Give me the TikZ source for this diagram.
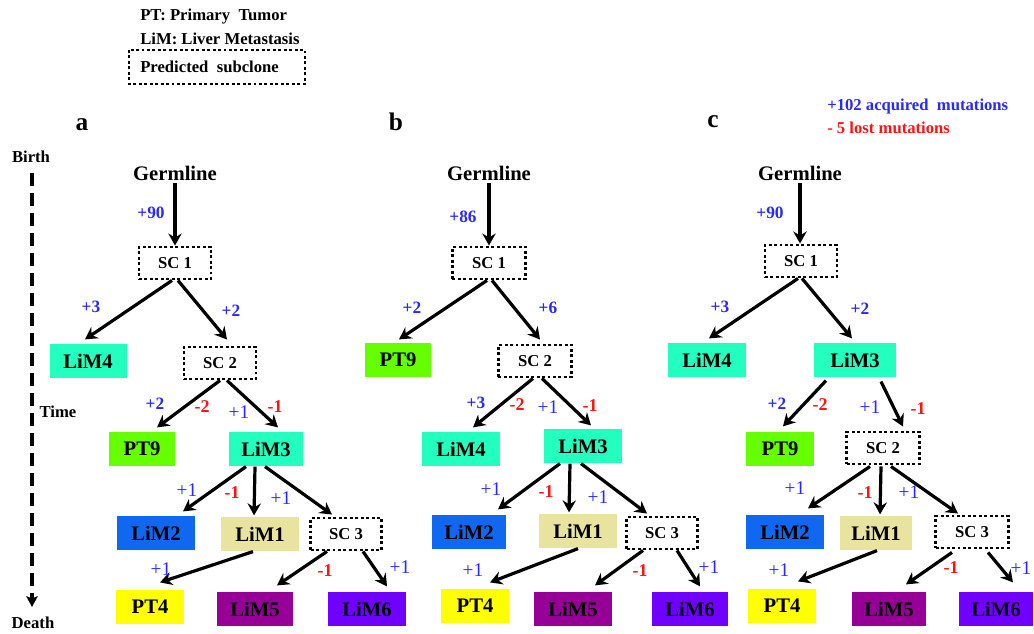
\documentclass[tikz,border=0pt]{standalone}
\usepackage{fontspec}
\setmainfont{Liberation Serif}
\usetikzlibrary{arrows.meta,calc}
\definecolor{aqua}{RGB}{34,255,190}
\definecolor{ptnine}{RGB}{102,255,0}
\definecolor{limtwo}{RGB}{16,104,240}
\definecolor{limone}{RGB}{232,228,160}
\definecolor{ptfour}{RGB}{255,255,0}
\definecolor{limfive}{RGB}{150,0,150}
\definecolor{limsix}{RGB}{112,0,255}
\definecolor{gainc}{RGB}{40,40,255}
\definecolor{lossc}{RGB}{255,20,20}
\begin{document}
\begin{tikzpicture}[x=0.75pt,y=-0.75pt,
  box/.style={inner sep=0pt, minimum height=26pt, font=\fontsize{15.5}{18}\selectfont\bfseries},
  sc/.style={draw, line width=2.2pt, dash pattern=on 2.2pt off 1.9pt, minimum width=53pt,
    minimum height=24pt, inner sep=0pt, font=\fontsize{12.5}{14}\selectfont\bfseries},
  gl/.style={font=\fontsize{15.5}{18}\selectfont\bfseries, inner sep=2pt},
  arr/.style={line width=2.4pt, -{Stealth[length=9pt,width=10pt,inset=3pt]}},
  gain/.style={text=gainc, font=\fontsize{13}{15}\selectfont\bfseries, inner sep=0pt},
  gainone/.style={text=gainc, font=\fontsize{14.5}{16}\selectfont, inner sep=0pt},
  loss/.style={text=lossc, font=\fontsize{13.5}{15}\selectfont\bfseries, inner sep=0pt},
  note/.style={font=\fontsize{12.5}{15}\selectfont\bfseries, inner sep=0pt, anchor=west},
  axis/.style={font=\fontsize{12.5}{14}\selectfont\bfseries, inner sep=0pt},
  panel/.style={font=\fontsize{19}{22}\selectfont\bfseries, inner sep=0pt},
]
\useasboundingbox (0,0) rectangle (1034,634);

% ---------- legend ----------
\node[note] (lgpt) at (140,17) {PT:\ Primary\ \ Tumor};
\node[note] (lglim) at (140,39) {LiM: Liver Metastasis};
\node[note] (lgsc) at (140,67) {Predicted\ \ subclone};
\draw[line width=2.2pt, dash pattern=on 2.2pt off 1.9pt] (129,50) rectangle (305,84);
\node[note, text=gainc] (lggain) at (827,106) {+102 acquired\ \ mutations};
\node[note, text=lossc] (lgloss) at (827,128) {- 5 lost mutations};

% ---------- time axis ----------
\node[axis] (birth) at (31,157) {Birth};
\node[axis] (time) at (58,412) {Time};
\node[axis] (death) at (33,623) {Death};
\coordinate (tb) at (32,173);
\coordinate (td) at (32,607);
\draw[line width=3pt, dash pattern=on 9.5pt off 5.5pt,
  -{Stealth[length=8pt,width=8.5pt,inset=1.5pt]}] (tb) -- (td);

% ---------- panel labels ----------
\node[panel] (pa) at (82,125) {a};
\node[panel] (pb) at (396,122) {b};
\node[panel] (pc) at (713,122) {c};

% ---------- tree a ----------
\node[gl] (ga) at (175,173) {Germline};
\node[sc, minimum width=54pt] (s1a) at (175,263) {SC 1};
\node[box, minimum width=57.75pt, fill=aqua] (l4a) at (88,361) {LiM4};
\node[sc, minimum width=54pt] (s2a) at (220,363) {SC 2};
\node[box, minimum width=50pt, fill=ptnine] (p9a) at (142,449) {PT9};
\node[box, minimum width=56pt, fill=aqua] (l3a) at (266,449) {LiM3};
\node[box, minimum width=59pt, fill=limtwo] (l2a) at (156,533) {LiM2};
\node[box, minimum width=58pt, fill=limone] (l1a) at (260,534) {LiM1};
\node[sc] (s3a) at (346,534) {SC 3};
\node[box, minimum width=51pt, fill=ptfour] (p4a) at (150,607) {PT4};
\node[box, minimum width=57.5pt, fill=limfive] (l5a) at (255,609) {LiM5};
\node[box, minimum width=59pt, fill=limsix] (l6a) at (367,609) {LiM6};

\draw[arr] (ga) -- (s1a);
\draw[arr] ($(s1a.south)+(-3,0)$) -- ($(l4a.north)+(-3,-4)$);
\draw[arr] ($(s1a.south)+(3,0)$) -- ($(s2a.north)+(7,-6)$);
\draw[arr] ($(s2a.south)+(0,0)$) -- ($(p9a.north)+(15,-4)$);
\draw[arr] ($(s2a.south)+(7,0)$) -- ($(l3a.north)+(12,-4)$);
\draw[arr] ($(l3a.south)+(-20,0)$) -- ($(l2a.north)+(27,-4)$);
\draw[arr] ($(l3a.south)+(-11,0)$) -- ($(l1a.north)+(-6,-1)$);
\draw[arr] ($(l3a.south)+(-1,0)$) -- ($(s3a.north)+(-14,-2)$);
\draw[arr] ($(l1a.south)+(-7,0)$) -- ($(p4a.north)+(10,-7)$);
\draw[arr] ($(s3a.south)+(-19,0)$) -- ($(l5a.north)+(22,-6)$);
\draw[arr] ($(s3a.south)+(17,0)$) -- ($(l6a.north)+(20,-5)$);

\node[gain] (ta1) at (151,213) {+90};
\node[gain] (ta2) at (91,307) {+3};
\node[gain] (ta3) at (231,311) {+2};
\node[gain] (ta4) at (155,404) {+2};
\node[loss] (ta5) at (202,407) {-2};
\node[gainone] (ta6) at (239,412) {+1};
\node[loss] (ta7) at (275,407) {-1};
\node[gainone] (ta8) at (187,490) {+1};
\node[loss] (ta9) at (232,493) {-1};
\node[gainone] (ta10) at (281,498) {+1};
\node[gainone] (ta11) at (161,569) {+1};
\node[loss] (ta12) at (325,571) {-1};
\node[gainone] (ta13) at (400,567) {+1};

% ---------- tree b ----------
\node[gl] (gb) at (489,173) {Germline};
\node[sc, minimum width=55pt] (s1b) at (489,263) {SC 1};
\node[box, minimum width=50pt, fill=ptnine] (p9b) at (398,360) {PT9};
\node[sc, minimum width=55pt] (s2b) at (535,361) {SC 2};
\node[box, minimum width=58.5pt, fill=aqua] (l4b) at (461,449) {LiM4};
\node[box, minimum width=58.5pt, fill=aqua] (l3b) at (583,446) {LiM3};
\node[box, minimum width=56pt, fill=limtwo] (l2b) at (469,532) {LiM2};
\node[box, minimum width=59pt, fill=limone] (l1b) at (578,531) {LiM1};
\node[sc] (s3b) at (662,533) {SC 3};
\node[box, minimum width=50.5pt, fill=ptfour] (p4b) at (475,606) {PT4};
\node[box, minimum width=58pt, fill=limfive] (l5b) at (573,609) {LiM5};
\node[box, minimum width=57pt, fill=limsix] (l6b) at (690,609) {LiM6};

\draw[arr] (gb) -- (s1b);
\draw[arr] ($(s1b.south)+(-2,0)$) -- ($(p9b.north)+(1,-3)$);
\draw[arr] ($(s1b.south)+(3,0)$) -- ($(s2b.north)+(5,-4)$);
\draw[arr] ($(s2b.south)+(-2,0)$) -- ($(l4b.north)+(12,-4)$);
\draw[arr] ($(s2b.south)+(7,0)$) -- ($(l3b.north)+(8,-3)$);
\draw[arr] ($(l3b.south)+(-23,0)$) -- ($(l2b.north)+(29,-5)$);
\draw[arr] ($(l3b.south)+(-13,0)$) -- ($(l1b.north)+(-9,-1)$);
\draw[arr] ($(l3b.south)+(-2,0)$) -- ($(s3b.north)+(-15,-2)$);
\draw[arr] ($(l1b.south)+(0,0)$) -- ($(p4b.north)+(15,-6)$);
\draw[arr] ($(s3b.south)+(-19,0)$) -- ($(l5b.north)+(22,-6)$);
\draw[arr] ($(s3b.south)+(15,0)$) -- ($(l6b.north)+(10,-5)$);

\node[gain] (tb1) at (463,217) {+86};
\node[gain] (tb2) at (412,308) {+2};
\node[gain] (tb3) at (548,308) {+6};
\node[gain] (tb4) at (476,403) {+3};
\node[loss] (tb5) at (517,405) {-2};
\node[gainone] (tb6) at (548,407) {+1};
\node[loss] (tb7) at (590,406) {-1};
\node[gainone] (tb8) at (491,489) {+1};
\node[loss] (tb9) at (546,492) {-1};
\node[gainone] (tb10) at (598,497) {+1};
\node[gainone] (tb11) at (473,570) {+1};
\node[loss] (tb12) at (640,571) {-1};
\node[gainone] (tb13) at (709,567) {+1};

% ---------- tree c ----------
\node[gl] (gc) at (800,173) {Germline};
\node[sc, minimum width=54pt] (s1c) at (801,261) {SC 1};
\node[box, minimum width=59pt, fill=aqua] (l4c) at (707,360) {LiM4};
\node[box, minimum width=61pt, fill=aqua] (l3c) at (855,360) {LiM3};
\node[box, minimum width=51pt, fill=ptnine] (p9c) at (780,449) {PT9};
\node[sc, minimum width=54.5pt] (s2c) at (883,448) {SC 2};
\node[box, minimum width=58.5pt, fill=limtwo] (l2c) at (785,532) {LiM2};
\node[box, minimum width=53.5pt, fill=limone] (l1c) at (876,533) {LiM1};
\node[sc, minimum width=54.5pt] (s3c) at (972,532) {SC 3};
\node[box, minimum width=51pt, fill=ptfour] (p4c) at (782,606) {PT4};
\node[box, minimum width=56pt, fill=limfive] (l5c) at (889,609) {LiM5};
\node[box, minimum width=55pt, fill=limsix] (l6c) at (996,609) {LiM6};

\draw[arr] (gc) -- ($(s1c.north)+(-1,0)$);
\draw[arr] ($(s1c.south)+(-3,0)$) -- ($(l4c.north)+(2,-4)$);
\draw[arr] ($(s1c.south)+(1,0)$) -- ($(l3c.north)+(-3,-4)$);
\draw[arr] ($(l3c.south)+(-29,3)$) -- ($(p9c.north)+(3,-5)$);
\draw[arr] ($(l3c.south)+(26,4)$) -- ($(s2c.north)+(20,-4)$);
\draw[arr] ($(s2c.south)+(-13,1)$) -- ($(l2c.north)+(23,-6)$);
\draw[arr] ($(s2c.south)+(-2,1)$) -- ($(l1c.north)+(4,-1)$);
\draw[arr] ($(s2c.south)+(8,1)$) -- ($(s3c.north)+(-14,-1)$);
\draw[arr] ($(l1c.south)+(1,0)$) -- ($(p4c.north)+(16,-7)$);
\draw[arr] ($(s3c.south)+(-20,3)$) -- ($(l5c.north)+(17,-7)$);
\draw[arr] ($(s3c.south)+(16,3)$) -- ($(l6c.north)+(17,-9)$);

\node[gain] (tc1) at (770,213) {+90};
\node[gain] (tc2) at (720,307) {+3};
\node[gain] (tc3) at (860,309) {+2};
\node[gain] (tc4) at (777,404) {+2};
\node[loss] (tc5) at (820,405) {-2};
\node[gainone] (tc6) at (870,407) {+1};
\node[loss] (tc7) at (918,409) {-1};
\node[gainone] (tc8) at (795,488) {+1};
\node[loss] (tc9) at (865,493) {-1};
\node[gainone] (tc10) at (909,492) {+1};
\node[gainone] (tc11) at (779,570) {+1};
\node[loss] (tc12) at (951,568) {-1};
\node[gainone] (tc13) at (1021,568) {+1};
\end{tikzpicture}
\end{document}
